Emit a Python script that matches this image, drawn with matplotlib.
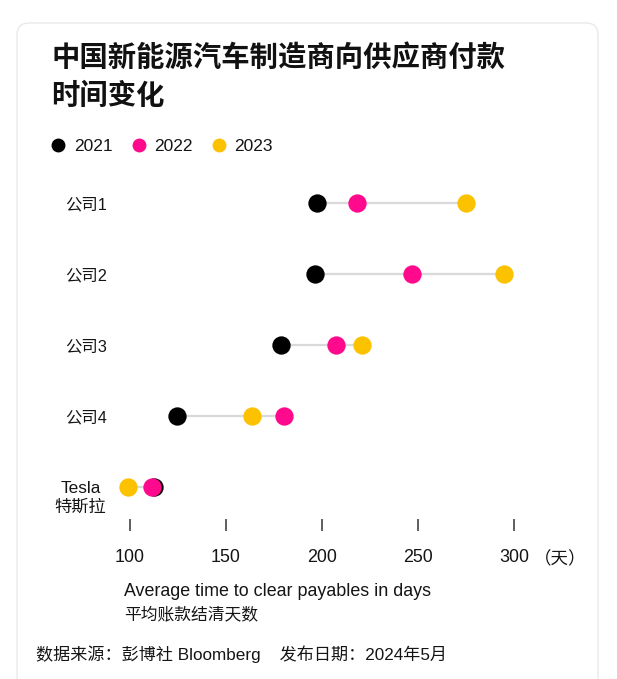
import matplotlib
matplotlib.use("Agg")
import matplotlib.pyplot as plt
from matplotlib.lines import Line2D
from matplotlib.patches import FancyBboxPatch

MIX = ['Liberation Sans', 'Noto Sans CJK SC', 'DejaVu Sans']
CJK = ['Noto Sans CJK SC', 'DejaVu Sans']
plt.rcParams['font.family'] = MIX

# ---- data ----
companies = ["公司1", "公司2", "公司3", "公司4", "Tesla\n特斯拉"]
years = ["2021", "2022", "2023"]
v2021 = [197.6, 196.5, 178.5, 124.6, 112.7]
v2022 = [218.4, 246.7, 207.4, 180.4, 111.3]
v2023 = [274.8, 294.8, 220.7, 163.5, 98.8]
xticks = [100, 150, 200, 250, 300]
colors = ["#000000", "#ff0a8c", "#fcc200"]

title1 = "中国新能源汽车制造商向供应商付款"
title2 = "时间变化"
xlabel_en = "Average time to clear payables in days"
xlabel_cn = "平均账款结清天数"
source = "数据来源：彭博社 Bloomberg    发布日期：2024年5月"
unit = "（天）"

TXT = "#151515"

W, H = 617, 679
fig = plt.figure(figsize=(W / 100, H / 100), dpi=100)
fig.patch.set_facecolor("white")

card = FancyBboxPatch((17, -30), 581, H - 23 + 30,
                      boxstyle="round,pad=0,rounding_size=12",
                      transform=None, ec="#e9e9e9", fc="white", lw=1.0, zorder=0)
fig.add_artist(card)

def fx(px):
    return px / W

def fy(py):
    return 1 - py / H

ax_left, ax_right = 110.8, 110.8 + 451.2
ax_top, ax_bot = 168, 519
ax = fig.add_axes([fx(ax_left), fy(ax_bot), (ax_right - ax_left) / W, (ax_bot - ax_top) / H])
ax.set_facecolor("none")
ax.set_xlim(90, 325)
ax.set_ylim(4.446, -0.497)

ypos = list(range(len(companies)))
series = [v2021, v2022, v2023]
for i in ypos:
    vals = [s[i] for s in series]
    ax.plot([min(vals), max(vals)], [i, i], color="#d9d9d9", lw=1.6, zorder=1,
            solid_capstyle="butt")
for k, (s, c) in enumerate(zip(series, colors)):
    ax.scatter(s, ypos, s=13.2 ** 2, color=c, zorder=2 + k, linewidths=0, clip_on=False)

for sp in ax.spines.values():
    sp.set_visible(False)

# y labels: single-line labels as tick labels, the two-line Tesla label placed below its tick
ax.set_yticks(ypos)
ax.set_yticklabels([c if "\n" not in c else "" for c in companies])
ax.tick_params(axis="y", length=0, pad=2.7, labelsize=11.8, labelcolor=TXT)
for i, c in enumerate(companies):
    if "\n" in c:
        ax.annotate(c, xy=(0, i), xycoords=("axes fraction", "data"),
                    xytext=(-4.5, 6), textcoords="offset pixels",
                    ha="right", va="top", multialignment="center",
                    fontsize=12.4, color=TXT, linespacing=1.25)

ax.set_xticks(xticks)
ax.set_xticklabels([str(t) for t in xticks])
ax.tick_params(axis="x", direction="out", length=8.6, width=1.1, color="#333333",
               pad=13, labelsize=12.9, labelcolor=TXT)

ax.annotate(unit, xy=(300, 0), xycoords=("data", "axes fraction"),
            xytext=(20, -40), textcoords="offset pixels", ha="left", va="center",
            fontsize=12.6, color=TXT, family=CJK)

# title
fig.text(fx(51), fy(58), title1, fontsize=20.4, fontweight="bold", color="#111111",
         ha="left", va="center", family=CJK)
fig.text(fx(51), fy(96), title2, fontsize=20.4, fontweight="bold", color="#111111",
         ha="left", va="center", family=CJK)

# legend
handles = [Line2D([], [], marker="o", ls="none", ms=10, color=c, mec="none") for c in colors]
leg = fig.legend(handles, years, loc="center left", bbox_to_anchor=(fx(51.5), fy(146)),
                 ncol=3, frameon=False, fontsize=12.5, handlelength=0.8, handletextpad=0.5,
                 columnspacing=1.1, borderpad=0, borderaxespad=0)
for t in leg.get_texts():
    t.set_color(TXT)

# footer texts
fig.text(fx(124), fy(592), xlabel_en, fontsize=12.9, color=TXT, ha="left", va="center")
fig.text(fx(124), fy(615), xlabel_cn, fontsize=12.1, color=TXT, ha="left", va="center",
         family=CJK)
fig.text(fx(36), fy(654), source, fontsize=12.3, color=TXT, ha="left", va="center")

fig.savefig("out.png", dpi=100, facecolor="white")
